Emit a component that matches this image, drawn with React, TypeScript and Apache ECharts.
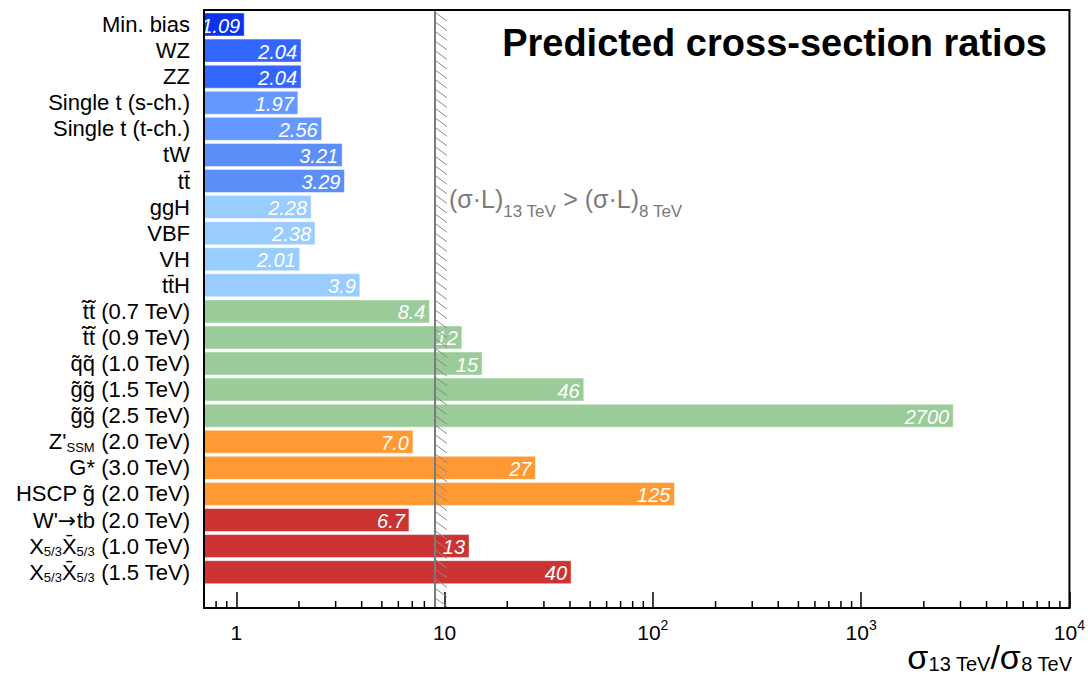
import React, { useEffect, useRef } from "react";
import * as echarts from "echarts";

const categories = [
  "Min. bias",
  "WZ",
  "ZZ",
  "Single t (s-ch.)",
  "Single t (t-ch.)",
  "tW",
  "tt\u0304",
  "ggH",
  "VBF",
  "VH",
  "tt\u0304H",
  "t\u0303t\u0303 (0.7 TeV)",
  "t\u0303t\u0303 (0.9 TeV)",
  "q\u0303q\u0303 (1.0 TeV)",
  "g\u0303g\u0303 (1.5 TeV)",
  "g\u0303g\u0303 (2.5 TeV)",
  "Z'{sub|SSM} (2.0 TeV)",
  "G* (3.0 TeV)",
  "HSCP g\u0303 (2.0 TeV)",
  "W'{arr|\u2192}tb (2.0 TeV)",
  "X{sub|5/3}X\u0304{sub|5/3} (1.0 TeV)",
  "X{sub|5/3}X\u0304{sub|5/3} (1.5 TeV)",
];

const ratios = [1.09, 2.04, 2.04, 1.97, 2.56, 3.21, 3.29, 2.28, 2.38, 2.01, 3.9, 8.4, 12, 15, 46, 2700, 7.0, 27, 125, 6.7, 13, 40];
const ratioLabels = ["1.09", "2.04", "2.04", "1.97", "2.56", "3.21", "3.29", "2.28", "2.38", "2.01", "3.9", "8.4", "12", "15", "46", "2700", "7.0", "27", "125", "6.7", "13", "40"];
const barColors = [
  "#0a33f0", "#3366ff", "#3366ff", "#6699ff", "#6699ff", "#5b8ef6", "#5b8ef6",
  "#99ccff", "#99ccff", "#99ccff", "#99ccff",
  "#99cc99", "#99cc99", "#99cc99", "#99cc99", "#99cc99",
  "#ff9933", "#ff9933", "#ff9933",
  "#cc3333", "#cc3333", "#cc3333",
];

const cutValue = 9;
const minorTicks = [
  0.8, 0.9, 2, 3, 4, 5, 6, 7, 8, 9, 20, 30, 40, 50, 60, 70, 80, 90,
  200, 300, 400, 500, 600, 700, 800, 900, 2000, 3000, 4000, 5000, 6000, 7000, 8000, 9000,
];
const xMin = 0.7;
const xMax = 10000;

const FONT = "'Liberation Sans', Arial, Helvetica, sans-serif";

export default function App() {
  const ref = useRef<HTMLDivElement>(null);
  useEffect(() => {
    if (!ref.current) return;
    const chart = echarts.init(ref.current, undefined, { renderer: "svg" });
    const option: any = {
      animation: false,
      backgroundColor: "#ffffff",
      textStyle: { fontFamily: FONT },
      grid: [
        { left: 204, right: 16, top: 10, bottom: 67, containLabel: false },
        { left: 204, right: 16, top: 11.5, height: 573.7, containLabel: false },
      ],
      xAxis: [
        {
          type: "log",
          gridIndex: 0,
          min: xMin,
          max: xMax,
          logBase: 10,
          axisLine: { show: false },
          splitLine: { show: false },
          axisTick: { show: true, inside: true, length: 16, lineStyle: { color: "#000", width: 1.5 } },
          axisLabel: {
            show: true,
            margin: 10,
            fontSize: 21,
            lineHeight: 28,
            color: "#000",
            fontFamily: FONT,
            showMinLabel: true,
            showMaxLabel: true,
            formatter: (v: number) => {
              const e = Math.log10(v);
              const r = Math.round(e);
              if (Math.abs(e - r) > 1e-6) return "";
              if (r === 0) return "1";
              if (r === 1) return "10";
              return "10{sup|" + r + "}";
            },
            rich: {
              sup: { fontSize: 14, lineHeight: 14, verticalAlign: "top", color: "#000", fontFamily: FONT },
            },
          },
        },
        {
          type: "log",
          gridIndex: 1,
          min: xMin,
          max: xMax,
          logBase: 10,
          show: false,
        },
      ],
      yAxis: [
        { type: "value", gridIndex: 0, min: 0, max: 1, show: false },
        {
          type: "category",
          gridIndex: 1,
          data: categories,
          inverse: true,
          axisLine: { show: false },
          axisTick: { show: false },
          splitLine: { show: false },
          axisLabel: {
            interval: 0,
            margin: 14,
            fontSize: 22,
            lineHeight: 24,
            color: "#000",
            fontFamily: FONT,
            rich: {
              sub: { fontSize: 13, lineHeight: 13, verticalAlign: "bottom", color: "#000", fontFamily: FONT },
              arr: { fontSize: 22, lineHeight: 24, color: "#000", fontFamily: "'DejaVu Sans', sans-serif" },
            },
          },
        },
      ],
      series: [
        {
          type: "custom",
          xAxisIndex: 1,
          yAxisIndex: 1,
          z: 2,
          silent: true,
          data: ratios.map((v, i) => [v, i]),
          renderItem: (params: any, api: any) => {
            const idx = params.dataIndex;
            const start = api.coord([xMin, api.value(1)]);
            const end = api.coord([api.value(0), api.value(1)]);
            const band = api.size([0, 1])[1];
            const h = band * 0.882;
            return {
              type: "group",
              children: [
                {
                  type: "rect",
                  shape: { x: start[0], y: start[1] - h / 2, width: end[0] - start[0], height: h },
                  style: { fill: barColors[idx], stroke: "rgba(255,255,255,0.45)", lineWidth: 1 },
                },
                {
                  type: "text",
                  style: {
                    x: end[0] - 4,
                    y: end[1] + 1,
                    text: ratioLabels[idx],
                    align: "right",
                    verticalAlign: "middle",
                    fill: "#fff",
                    font: "italic 20px " + FONT,
                  },
                },
              ],
            };
          },
        },
        {
          type: "custom",
          xAxisIndex: 0,
          yAxisIndex: 0,
          z: 5,
          silent: true,
          clip: false,
          data: minorTicks.map((v) => [v, 0]),
          renderItem: (params: any, api: any) => {
            const p = api.coord([api.value(0), 0]);
            return {
              type: "line",
              shape: { x1: p[0], y1: p[1], x2: p[0], y2: p[1] - 7 },
              style: { stroke: "#000", lineWidth: 1.5 },
            };
          },
        },
        {
          type: "custom",
          xAxisIndex: 0,
          yAxisIndex: 0,
          z: 6,
          silent: true,
          clip: false,
          data: [[cutValue, 0]],
          renderItem: (params: any, api: any) => {
            const cs = params.coordSys;
            const x = api.coord([api.value(0), 0])[0];
            const children: any[] = [];
            for (let y = cs.y + 3; y < cs.y + cs.height - 2; y += 9.6) {
              children.push({
                type: "line",
                shape: { x1: x + 1, y1: y, x2: x + 12, y2: y + 8 },
                style: { stroke: "#8a8a8a", lineWidth: 1 },
              });
            }
            children.push({
              type: "line",
              shape: { x1: x, y1: cs.y, x2: x, y2: cs.y + cs.height },
              style: { stroke: "#7a7a7a", lineWidth: 2 },
            });
            children.push({
              type: "rect",
              shape: { x: cs.x, y: cs.y, width: cs.width, height: cs.height },
              style: { fill: "none", stroke: "#000", lineWidth: 2 },
            });
            return { type: "group", children };
          },
        },
      ],
      graphic: [
        {
          type: "text",
          z: 10,
          style: {
            x: 1047,
            y: 43,
            text: "Predicted cross-section ratios",
            align: "right",
            verticalAlign: "middle",
            fill: "#000",
            font: "bold 38px " + FONT,
          },
        },
        {
          type: "text",
          z: 10,
          style: {
            x: 449,
            y: 199,
            text: "(\u03c3\u00b7L){sub|13 TeV} > (\u03c3\u00b7L){sub|8 TeV}",
            align: "left",
            verticalAlign: "middle",
            fill: "#7a7a7a",
            fontSize: 25,
            fontFamily: FONT,
            lineHeight: 42,
            rich: {
              sub: { fontSize: 17, lineHeight: 17, verticalAlign: "bottom", fill: "#7a7a7a", fontFamily: FONT },
            },
          },
        },
        {
          type: "text",
          z: 10,
          style: {
            x: 1072,
            y: 657,
            text: "\u03c3{sub|13 TeV}/\u03c3{sub|8 TeV}",
            align: "right",
            verticalAlign: "middle",
            fill: "#000",
            fontSize: 34,
            fontFamily: FONT,
            lineHeight: 34,
            rich: {
              sub: { fontSize: 20, lineHeight: 20, verticalAlign: "bottom", fill: "#000", fontFamily: FONT },
            },
          },
        },
      ],
    };
    chart.setOption(option);
    return () => chart.dispose();
  }, []);
  return (
    <div
      ref={ref}
      style={{ position: "fixed", left: 0, top: 0, width: 1088, height: 675 }}
    />
  );
}
